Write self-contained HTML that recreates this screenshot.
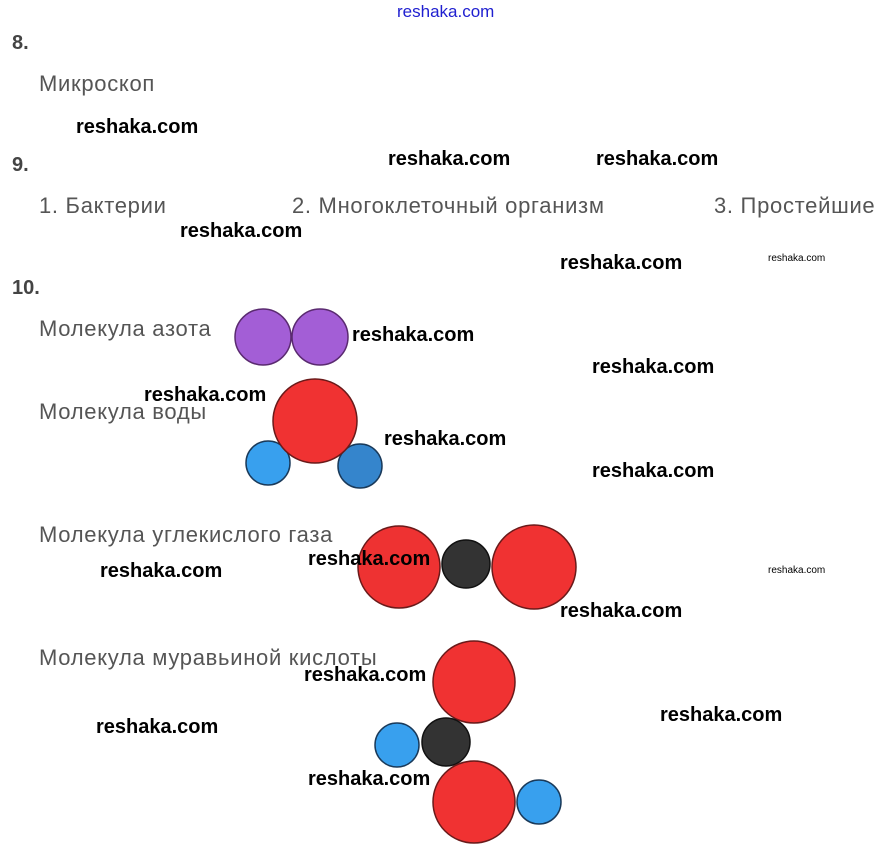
<!DOCTYPE html>
<html><head><meta charset="utf-8"><style>
body{margin:0;width:889px;height:855px;background:#fff;position:relative;overflow:hidden;font-family:"Liberation Sans",sans-serif}
.t{position:absolute;white-space:nowrap;line-height:1}
.g{color:#555;font-size:22px;letter-spacing:0.7px}
.n{color:#444;font-size:20px;font-weight:bold}
.w{color:#000;font-size:20px;font-weight:bold}
.s{color:#000;font-size:10px}
svg{position:absolute;left:0;top:0}
</style></head><body>
<svg width="889" height="855">
<g stroke-width="1.5">
<circle cx="263" cy="337" r="28" fill="#a35ed6" stroke="#5a2a70"/>
<circle cx="320" cy="337" r="28" fill="#a35ed6" stroke="#5a2a70"/>
<circle cx="268" cy="463" r="22" fill="#38a0ee" stroke="#1a3a5a"/>
<circle cx="360" cy="466" r="22" fill="#3585cc" stroke="#1a3a5a"/>
<circle cx="315" cy="421" r="42" fill="#f03232" stroke="#6a1a1a"/>
<circle cx="399" cy="567" r="41" fill="#ee3232" stroke="#6a1a1a"/>
<circle cx="534" cy="567" r="42" fill="#f03232" stroke="#6a1a1a"/>
<circle cx="466" cy="564" r="24" fill="#333" stroke="#111"/>
<circle cx="474" cy="682" r="41" fill="#f03232" stroke="#6a1a1a"/>
<circle cx="397" cy="745" r="22" fill="#38a0ee" stroke="#1a3a5a"/>
<circle cx="446" cy="742" r="24" fill="#333" stroke="#111"/>
<circle cx="474" cy="802" r="41" fill="#f03232" stroke="#6a1a1a"/>
<circle cx="539" cy="802" r="22" fill="#38a0ee" stroke="#1a3a5a"/>
</g></svg>
<div class="t" style="left:397px;top:3px;font-size:17px;color:#2020d0">reshaka.com</div>
<div class="t n" style="left:12px;top:33px">8.</div>
<div class="t g" style="left:39px;top:73px">Микроскоп</div>
<div class="t n" style="left:12px;top:155px">9.</div>
<div class="t g" style="left:39px;top:195px">1. Бактерии</div>
<div class="t g" style="left:292px;top:195px">2. Многоклеточный организм</div>
<div class="t g" style="left:714px;top:195px">3. Простейшие</div>
<div class="t n" style="left:12px;top:278px">10.</div>
<div class="t g" style="left:39px;top:318px">Молекула азота</div>
<div class="t g" style="left:39px;top:401px">Молекула воды</div>
<div class="t g" style="left:39px;top:524px">Молекула углекислого газа</div>
<div class="t g" style="left:39px;top:647px">Молекула муравьиной кислоты</div>
<div class="t w" style="left:76px;top:117px">reshaka.com</div>
<div class="t w" style="left:388px;top:149px">reshaka.com</div>
<div class="t w" style="left:596px;top:149px">reshaka.com</div>
<div class="t w" style="left:180px;top:221px">reshaka.com</div>
<div class="t w" style="left:560px;top:253px">reshaka.com</div>
<div class="t s" style="left:768px;top:254px">reshaka.com</div>
<div class="t w" style="left:352px;top:325px">reshaka.com</div>
<div class="t w" style="left:592px;top:357px">reshaka.com</div>
<div class="t w" style="left:144px;top:385px">reshaka.com</div>
<div class="t w" style="left:384px;top:429px">reshaka.com</div>
<div class="t w" style="left:592px;top:461px">reshaka.com</div>
<div class="t w" style="left:100px;top:561px">reshaka.com</div>
<div class="t w" style="left:308px;top:549px">reshaka.com</div>
<div class="t s" style="left:768px;top:566px">reshaka.com</div>
<div class="t w" style="left:560px;top:601px">reshaka.com</div>
<div class="t w" style="left:304px;top:665px">reshaka.com</div>
<div class="t w" style="left:660px;top:705px">reshaka.com</div>
<div class="t w" style="left:96px;top:717px">reshaka.com</div>
<div class="t w" style="left:308px;top:769px">reshaka.com</div>
</body></html>
